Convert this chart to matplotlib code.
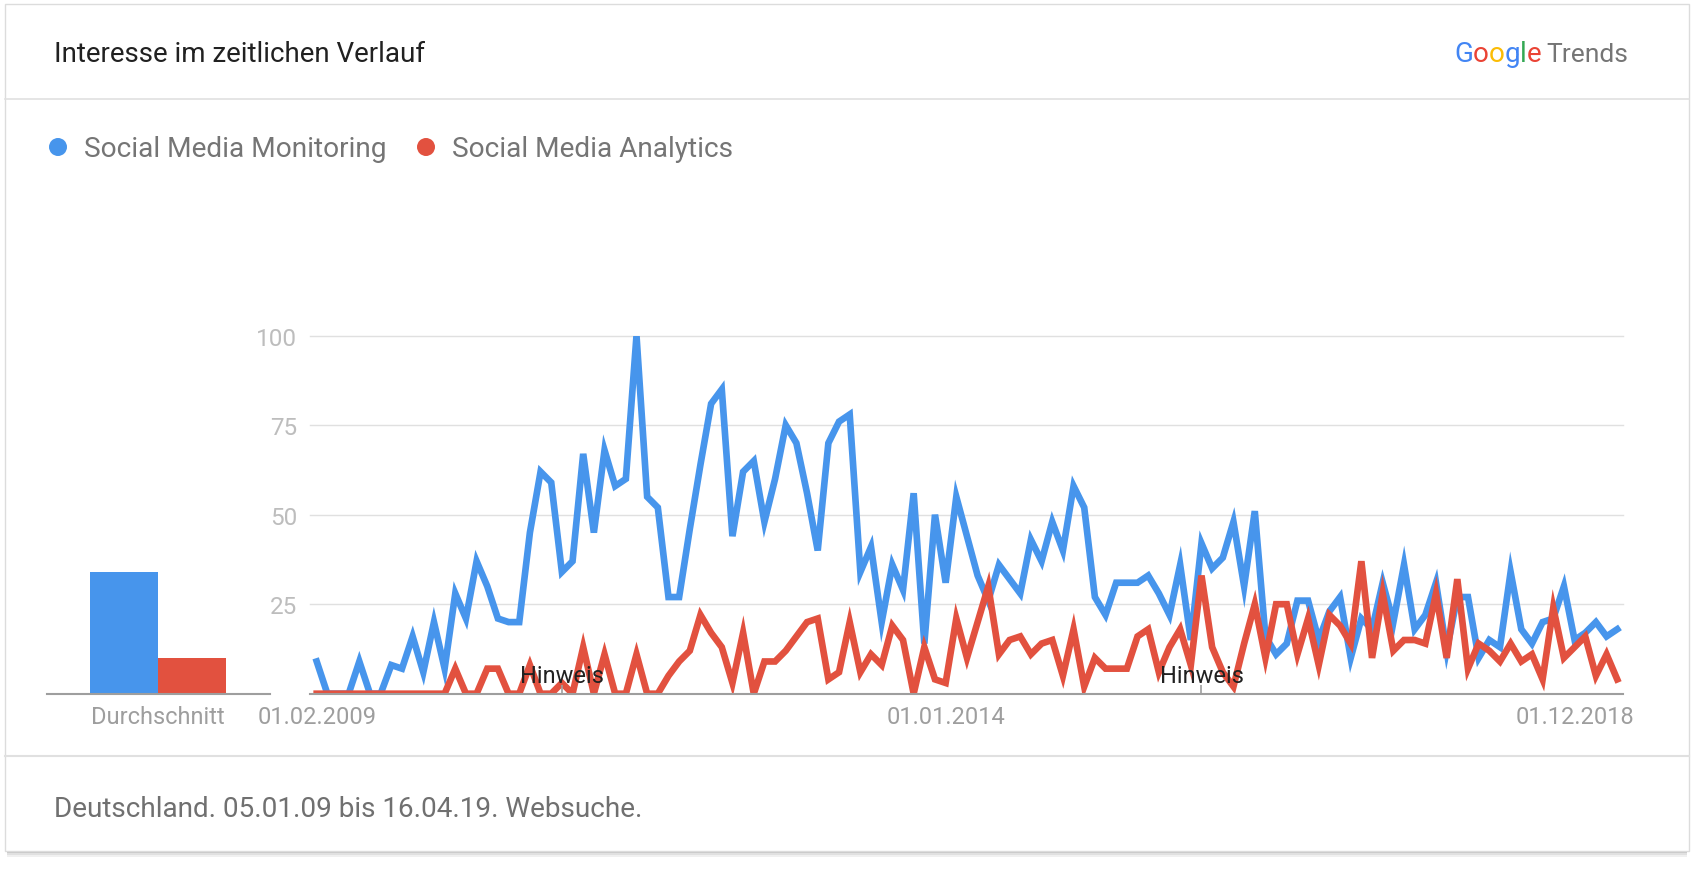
import matplotlib
matplotlib.use("Agg")
import matplotlib.pyplot as plt
from matplotlib.patches import Rectangle, Circle

W, H = 1694, 870
DPI = 100

BLUE = "#4795ec"
RED = "#e2513f"

# monthly interest, 01.02.2009 .. 01.04.2019
blue = [9, 0, 0, 0, 9, 0, 0, 8, 7, 16,
        6, 20, 7, 28, 21, 37, 30, 21, 20, 20,
        45, 62, 59, 34, 37, 67, 45, 68, 58, 60,
        100, 55, 52, 27, 27, 46, 64, 81, 85, 44,
        62, 65, 48, 60, 75, 70, 56, 40, 70, 76,
        78, 34, 41, 20, 36, 29, 56, 14, 50, 31,
        55, 44, 33, 26, 36, 32, 28, 43, 37, 48,
        40, 58, 52, 27, 22, 31, 31, 31, 33, 28,
        22, 36, 15, 42, 35, 38, 48, 30, 51, 16,
        11, 14, 26, 26, 15, 23, 27, 10, 21, 18,
        31, 20, 36, 18, 22, 31, 12, 27, 27, 10,
        15, 13, 34, 18, 14, 20, 21, 30, 15, 17,
        20, 16, 18]
red = [0, 0, 0, 0, 0, 0, 0, 0, 0, 0,
       0, 0, 0, 7, 0, 0, 7, 7, 0, 0,
       8, 0, 0, 3, 0, 13, 0, 11, 0, 0,
       11, 0, 0, 5, 9, 12, 22, 17, 13, 3,
       17, 0, 9, 9, 12, 16, 20, 21, 4, 6,
       20, 6, 11, 8, 19, 15, 0, 13, 4, 3,
       21, 10, 20, 30, 11, 15, 16, 11, 14, 15,
       5, 18, 2, 10, 7, 7, 7, 16, 18, 6,
       13, 18, 8, 33, 13, 6, 2, 14, 25, 10,
       25, 25, 11, 21, 8, 22, 19, 14, 37, 10,
       28, 12, 15, 15, 14, 28, 10, 32, 7, 14,
       12, 9, 14, 9, 11, 4, 24, 10, 13, 16,
       5, 11, 4]
averages = [34, 10]
series_names = ["Social Media Monitoring", "Social Media Analytics"]
y_ticks = [25, 50, 75, 100]
x_tick_idx = [0, 59, 118]
x_tick_labels = ["01.02.2009", "01.01.2014", "01.12.2018"]
note_idx = [23, 83]

plt.rcParams["font.family"] = ["Roboto", "DejaVu Sans"]

fig = plt.figure(figsize=(W / DPI, H / DPI), dpi=DPI)
fig.patch.set_facecolor("white")

# pixel canvas for card, header and footer
bg = fig.add_axes([0, 0, 1, 1])
bg.set_xlim(0, W)
bg.set_ylim(H, 0)
bg.axis("off")

for k, a in enumerate([0.22, 0.12, 0.06]):
    bg.add_patch(Rectangle((7, 852 + 2 * k), 1680, 2, fc="#000000", alpha=a, lw=0))
bg.add_patch(Rectangle((5, 5), 1684, 847, fc="white", ec="#dcdcdc", lw=1))
bg.plot([5, 1689], [100, 100], color="#e0e0e0", lw=1.2)
bg.plot([5, 1689], [756.5, 756.5], color="#e0e0e0", lw=1.5)

bg.text(54, 61.7, "Interesse im zeitlichen Verlauf", fontsize=20,
        color="#212121", va="baseline")

renderer = fig.canvas.get_renderer()
gx = 1454
for ch, col in zip("Google", ["#4285f4", "#ea4335", "#fbbc05",
                              "#4285f4", "#34a853", "#ea4335"]):
    t = bg.text(gx, 61.7, ch, color=col, fontsize=20, va="baseline")
    gx += t.get_window_extent(renderer).width
bg.text(gx + 5, 61.7, "Trends", color="#757575", fontsize=19, va="baseline")

# legend
bg.add_patch(Circle((58, 148), 9, color=BLUE, lw=0))
bg.text(84, 156.7, series_names[0], fontsize=20.2, color="#757575", va="baseline")
bg.add_patch(Circle((426, 148), 9, color=RED, lw=0))
bg.text(452, 156.7, series_names[1], fontsize=20.2, color="#757575", va="baseline")

bg.text(54, 816.7, "Deutschland. 05.01.09 bis 16.04.19. Websuche.", fontsize=20.1,
        color="#707070", va="baseline")

# main line chart
x0, x1 = 310, 1623
y0, y1 = 694.7, 336.7
first_px, step = 316.7, 10.66
n = len(blue)
ax = fig.add_axes([x0 / W, (H - y0) / H, (x1 - x0) / W, (y0 - y1) / H])
ax.set_xlim(-(first_px - x0) / step, (x1 - first_px) / step)
ax.set_ylim(0, 100)
for s in ax.spines.values():
    s.set_visible(False)
for v in y_ticks:
    ax.axhline(v, color="#e0e0e0", lw=1.0, zorder=1, clip_on=False)
ax.axhline(0, color="#9e9e9e", lw=1.5, zorder=4, clip_on=False)

xs = list(range(n))
ax.plot(xs, blue, color=BLUE, lw=4.8, solid_joinstyle="miter", zorder=2)
ax.plot(xs, red, color=RED, lw=4.8, solid_joinstyle="miter", zorder=3)

ax.vlines(note_idx, 0, 2.3, color="#9e9e9e", lw=1.2, zorder=5)
for i in note_idx:
    ax.text(i, 3.3, "Hinweis", ha="center", va="baseline", fontsize=17,
            color="#212121", zorder=6)

ax.set_yticks(y_ticks)
ax.tick_params(axis="y", length=0, pad=9.4, labelsize=17.5, labelcolor="#bdbdbd")
ax.set_xticks(x_tick_idx, x_tick_labels)
ax.tick_params(axis="x", length=0, pad=7.9, labelsize=17, labelcolor="#9e9e9e")

# average bars
bx0, bx1 = 46.5, 270
bar_w = 68
bax = fig.add_axes([bx0 / W, (H - y0) / H, (bx1 - bx0) / W, (y0 - y1) / H])
bax.set_xlim(-0.5 - (90 - bx0) / bar_w, 1.5 + (bx1 - 226) / bar_w)
bax.set_ylim(0, 100)
bax.patch.set_alpha(0)
for s in bax.spines.values():
    s.set_visible(False)
bax.bar([0, 1], averages, width=1.0, color=[BLUE, RED], zorder=2)
bax.axhline(0, color="#9e9e9e", lw=1.5, zorder=4, clip_on=False)
bax.set_yticks([])
bax.set_xticks([0.5], ["Durchschnitt"])
bax.tick_params(axis="x", length=0, pad=7.9, labelsize=17, labelcolor="#9e9e9e")

fig.savefig("out.png", dpi=DPI)
plt.close(fig)
